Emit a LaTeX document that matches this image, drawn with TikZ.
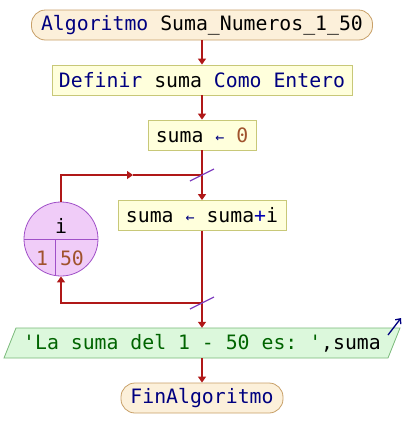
\documentclass[tikz,border=0pt]{standalone}
\usepackage{fontspec}
\setmonofont{DejaVu Sans Mono}
\usetikzlibrary{arrows.meta}
\definecolor{termfill}{HTML}{FCF0DA}
\definecolor{termdraw}{HTML}{C8A068}
\definecolor{procfill}{HTML}{FFFFDC}
\definecolor{procdraw}{HTML}{C8C878}
\definecolor{loopfill}{HTML}{F0CCF8}
\definecolor{loopdraw}{HTML}{A050C8}
\definecolor{outfill}{HTML}{DCF8DC}
\definecolor{outdraw}{HTML}{78B878}
\definecolor{flowcol}{HTML}{B01818}
\definecolor{slashcol}{HTML}{8040C0}
\definecolor{kw}{HTML}{000080}
\definecolor{num}{HTML}{A0522D}
\definecolor{strc}{HTML}{006400}
\newcommand{\asig}{\textcolor{kw}{\fontsize{15}{15}\selectfont ←}}
\tikzset{
  txt/.style={font=\ttfamily\fontsize{19.8}{22}\selectfont, inner sep=0pt},
  term/.style={txt, draw=termdraw, fill=termfill, rounded corners=14pt, line width=0.8pt, minimum height=30pt},
  proc/.style={txt, draw=procdraw, fill=procfill, line width=0.8pt, minimum height=30pt},
  flow/.style={draw=flowcol, line width=1.3pt},
  flowarr/.style={flow, -{Triangle[length=6pt,width=8pt]}},
  slash/.style={draw=slashcol, line width=1.3pt},
}
\begin{document}
\begin{tikzpicture}[x=1pt,y=-1pt]
\useasboundingbox (0,0) rectangle (404,448);
% nodes
\node[term, minimum width=341pt] (start) at (202,25) {\textcolor{kw}{Algoritmo} Suma\_Numeros\_1\_50};
\node[proc, minimum width=300pt] (def) at (202,80) {\textcolor{kw}{Definir} suma \textcolor{kw}{Como Entero}};
\node[proc, minimum width=108pt] (init) at (202,135) {suma \asig{} \textcolor{num}{0}};
\node[proc, minimum width=168pt] (body) at (202,215.5) {suma \asig{} suma\textcolor{blue!70!black}{+}i};
\node[circle, draw=loopdraw, fill=loopfill, line width=0.8pt, minimum size=74pt, inner sep=0pt] (loop) at (61,239) {};
\draw[draw=loopdraw, line width=0.8pt] (loop.west) -- (loop.east);
\draw[draw=loopdraw, line width=0.8pt] (55,239) -- (55,275.5);
\node[txt] (lvar) at (61,226) {i};
\node[txt, text=num] (lfrom) at (42,258) {1};
\node[txt, text=num] (lto) at (72,258) {50};
% output parallelogram
\fill[outfill] (16,328) -- (400,328) -- (388,358) -- (4,358) -- cycle;
\draw[outdraw, line width=0.8pt] (16,328) -- (400,328) -- (388,358) -- (4,358) -- cycle;
\node[txt, minimum width=384pt, minimum height=30pt] (out) at (202,343) {\textcolor{strc}{'La suma del 1 - 50 es: '},suma};
\coordinate (oa) at (388,335);
\coordinate (ob) at (401,318);
\draw[draw=kw, line width=1.3pt, -{Straight Barb[length=4pt,width=7pt]}] (oa) -- (ob);
\node[term, minimum width=162pt] (fin) at (202,398) {\textcolor{kw}{FinAlgoritmo}};
% connectors
\coordinate (j1) at (202,175);
\coordinate (j2) at (202,303);
\coordinate (m1) at (133,175);
\draw[flowarr] (start.south) -- (def.north);
\draw[flowarr] (def.south) -- (init.north);
\draw[flow] (init.south) -- (j1);
\draw[flowarr] (j1) -- (body.north);
\draw[flow] (body.south) -- (j2);
\draw[flowarr] (j2) -- (out.north);
\draw[flowarr] (out.south) -- (fin.north);
\draw[flowarr] (loop.north) |- (m1);
\draw[flow] (m1) -- (j1);
\draw[flowarr] (j2) -| (loop.south);
% slash marks
\draw[slash] (190,181) -- (214,169);
\draw[slash] (190,309) -- (214,297);
\end{tikzpicture}
\end{document}
